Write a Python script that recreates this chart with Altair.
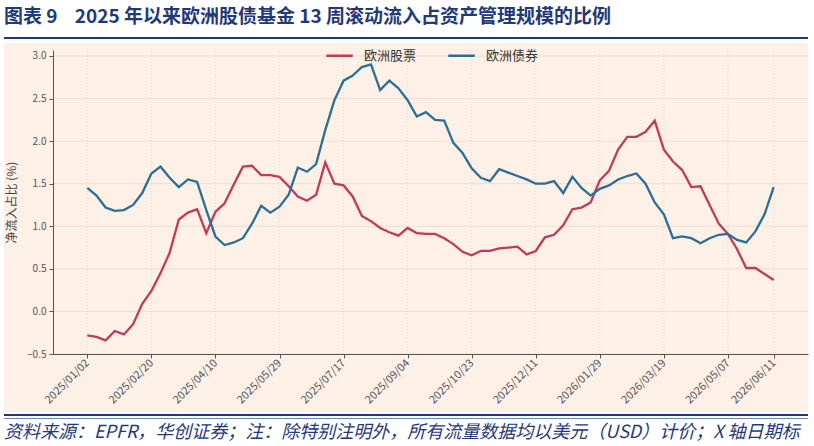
import altair as alt
import pandas as pd

# ---------------- data ----------------
start_date = "2025-01-02"
n_weeks = 76
series_names = ["欧洲股票", "欧洲债券"]
series_colors = ["#C5385E", "#2C6E94"]

equity = [-0.28, -0.30, -0.34, -0.23, -0.27, -0.15, 0.09, 0.24, 0.45, 0.69,
          1.08, 1.16, 1.20, 0.92, 1.17, 1.27, 1.49, 1.70, 1.71, 1.60,
          1.60, 1.58, 1.47, 1.35, 1.30, 1.37, 1.75, 1.50, 1.48, 1.35,
          1.12, 1.06, 0.98, 0.93, 0.89, 0.98, 0.92, 0.91, 0.91, 0.86,
          0.79, 0.70, 0.66, 0.71, 0.71, 0.74, 0.75, 0.76, 0.67, 0.71,
          0.87, 0.90, 1.01, 1.20, 1.22, 1.28, 1.54, 1.65, 1.90, 2.05,
          2.05, 2.11, 2.24, 1.90, 1.76, 1.66, 1.46, 1.47, 1.25, 1.03,
          0.91, 0.73, 0.51, 0.51, 0.44, 0.37]

bonds = [1.45, 1.36, 1.22, 1.18, 1.19, 1.25, 1.39, 1.62, 1.70, 1.57,
         1.46, 1.55, 1.52, 1.19, 0.88, 0.78, 0.81, 0.86, 1.03, 1.24,
         1.16, 1.23, 1.37, 1.69, 1.64, 1.73, 2.13, 2.48, 2.71, 2.77,
         2.87, 2.90, 2.60, 2.71, 2.62, 2.48, 2.29, 2.34, 2.25, 2.24,
         1.98, 1.86, 1.68, 1.57, 1.53, 1.67, 1.63, 1.59, 1.55, 1.50,
         1.50, 1.53, 1.39, 1.58, 1.45, 1.36, 1.44, 1.48, 1.55, 1.59,
         1.62, 1.50, 1.28, 1.14, 0.86, 0.88, 0.86, 0.80, 0.86, 0.90,
         0.91, 0.84, 0.81, 0.94, 1.14, 1.46]

tick_dates = ["2025-01-02", "2025-02-20", "2025-04-10", "2025-05-29",
              "2025-07-17", "2025-09-04", "2025-10-23", "2025-12-11",
              "2026-01-29", "2026-03-19", "2026-05-07", "2026-06-11"]
y_ticks = [-0.5, 0.0, 0.5, 1.0, 1.5, 2.0, 2.5, 3.0]

title_text = "图表 9\u00a0\u00a0\u00a0\u00a02025 年以来欧洲股债基金 13 周滚动流入占资产管理规模的比例"
footer_text = "资料来源：EPFR，华创证券；注：除特别注明外，所有流量数据均以美元（USD）计价；X 轴日期标"
y_title = "净流入占比 (%)"

# ---------------- tables ----------------
dates = list(pd.date_range(start_date, periods=n_weeks, freq="7D").strftime("%Y-%m-%d"))
df = pd.DataFrame({
    "date": dates * 2,
    "series": [series_names[0]] * n_weeks + [series_names[1]] * n_weeks,
    "value": equity + bonds,
})

def ms(d):
    return int(pd.Timestamp(d, tz="UTC").timestamp() * 1000)

pad = pd.Timedelta(days=26.25)
x_domain = [int((pd.Timestamp(dates[0], tz="UTC") - pad).timestamp() * 1000),
            int((pd.Timestamp(dates[-1], tz="UTC") + pad).timestamp() * 1000)]
tick_ms = [ms(d) for d in tick_dates]

FONT = "Noto Sans CJK SC"
W, H = 755, 304

x_enc = alt.X("date:T",
              scale=alt.Scale(type="utc", domain=x_domain, nice=False),
              axis=alt.Axis(values=tick_ms,
                            labelExpr="utcFormat(datum.value, '%Y/%m/%d')",
                            labelAngle=-45, labelAlign="right", labelBaseline="middle",
                            labelOverlap=False, labelFlush=False, labelPadding=3,
                            title=None, grid=False, domainColor="#555555",
                            tickColor="#555555", tickSize=4, labelColor="#555555",
                            labelFontSize=11, labelFont=FONT, zindex=1))
y_enc = alt.Y("value:Q",
              scale=alt.Scale(domain=[-0.5, 3.07], nice=False, zero=False),
              axis=alt.Axis(values=y_ticks, format=".1f", title=y_title, grid=False,
                            domainColor="#555555", tickColor="#555555", tickSize=4,
                            labelColor="#555555", labelFontSize=10, labelFont=FONT,
                            labelPadding=3, titleFont=FONT, titleFontSize=12,
                            titleFontWeight="normal", titleColor="#444444",
                            titlePadding=8, zindex=1))

one = pd.DataFrame({"k": [0]})

bg = alt.Chart(one).mark_rect(color="#FDF0E6").encode(
    x=alt.value(-49), x2=alt.value(W), y=alt.value(-7), y2=alt.value(362))

hgrid = alt.Chart(pd.DataFrame({"value": y_ticks})).mark_rule(
    color="#EEDFD3", strokeWidth=1).encode(y=y_enc)

vgrid = alt.Chart(pd.DataFrame({"date": tick_dates})).mark_rule(
    color="#E6D6CA", strokeWidth=0.8, strokeDash=[1, 2]).encode(x=x_enc)

lines = alt.Chart(df).mark_line(strokeWidth=2.3).encode(
    x=x_enc, y=y_enc,
    color=alt.Color("series:N",
                    scale=alt.Scale(domain=series_names, range=series_colors),
                    legend=alt.Legend(orient="none", legendX=272, legendY=-9,
                                      direction="horizontal", title=None,
                                      symbolType="stroke", symbolSize=700,
                                      symbolStrokeWidth=2.5, labelFontSize=13,
                                      labelFont=FONT, labelColor="#333333",
                                      columnPadding=26, labelOffset=10, padding=0)),
    order=alt.Order("date:T"))

title = alt.Chart(pd.DataFrame({"t": [title_text]})).mark_text(
    align="left", baseline="middle", font=FONT, fontSize=19, fontWeight="bold",
    color="#1F3A78").encode(x=alt.value(-49), y=alt.value(-33), text="t:N")

title_rule = alt.Chart(one).mark_rule(color="#1F3A78", strokeWidth=2).encode(
    x=alt.value(-49), x2=alt.value(W), y=alt.value(-12))

foot_rule1 = alt.Chart(one).mark_rule(color="#1F3A78", strokeWidth=2).encode(
    x=alt.value(-49), x2=alt.value(W), y=alt.value(365))
foot_rule2 = alt.Chart(one).mark_rule(color="#6A86C0", strokeWidth=1).encode(
    x=alt.value(-49), x2=alt.value(W), y=alt.value(368.5))

footer = alt.Chart(pd.DataFrame({"t": [footer_text]})).mark_text(
    align="left", baseline="middle", font=FONT, fontSize=18, fontStyle="italic",
    color="#1F3A78").encode(x=alt.value(-49), y=alt.value(383), text="t:N")

chart = alt.layer(bg, hgrid, vgrid, lines, title, title_rule,
                  foot_rule1, foot_rule2, footer).properties(
    width=W, height=H,
    autosize=alt.AutoSizeParams(type="none"),
    padding={"left": 53, "top": 50, "right": 6, "bottom": 92},
).configure(background="white").configure_view(stroke=None)

chart.save("out.html", embed_options={"renderer": "svg", "actions": False})
